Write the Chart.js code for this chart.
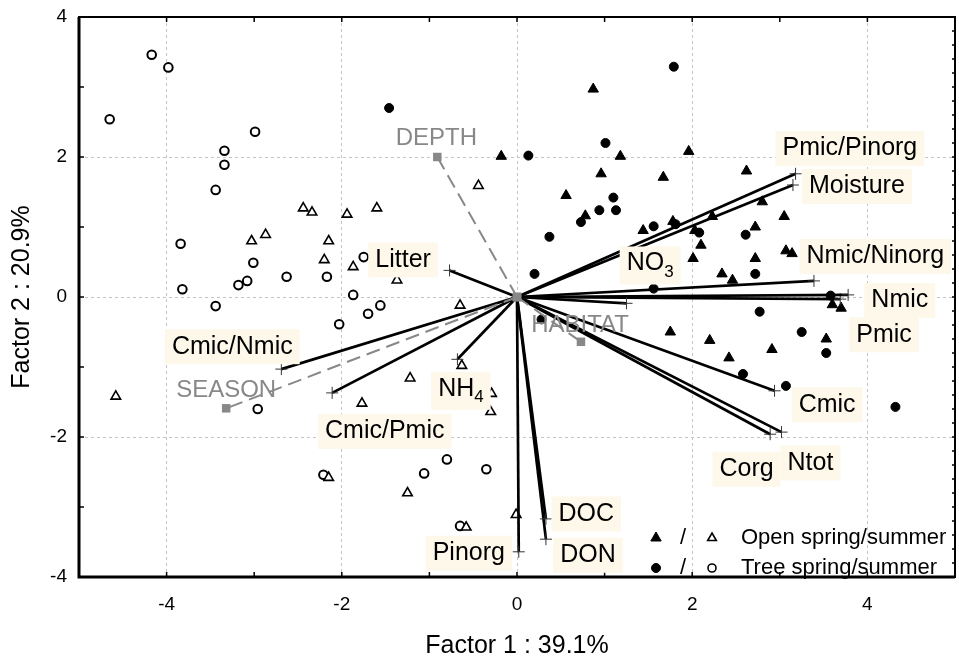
<!DOCTYPE html>
<html>
<head>
<meta charset="utf-8">
<script src="https://cdn.jsdelivr.net/npm/chart.js@4"></script>
<style>
body { margin: 0; background: #fff; }
#wrap { width: 959px; height: 664px; }
</style>
</head>
<body>
<div id="wrap"><canvas id="canvas"></canvas></div>
<script>
// case scores (factor 1, factor 2)
var openSpring = [[-0.18, 2.01], [0.87, 2.97], [1.18, 2.01], [0.96, 1.76], [0.56, 1.45], [0.78, 1.16],
  [1.96, 2.08], [1.67, 1.71], [2.62, 1.80], [2.80, 1.36], [3.05, 1.15], [1.44, 0.95], [1.78, 1.08],
  [2.03, 0.95], [2.23, 1.15], [2.72, 1.00], [2.10, 0.74], [2.01, 0.55], [3.07, 0.66], [3.14, 0.62],
  [2.72, 0.55], [2.34, 0.33], [2.46, 0.24], [3.60, -0.11], [3.70, -0.16], [1.75, -0.50], [2.20, -0.62],
  [3.53, -0.60], [2.91, -0.75], [2.42, -0.87]];
var openSummer = [[-2.44, 1.27], [-2.34, 1.21], [-3.03, 0.80], [-2.87, 0.89], [-0.44, 1.59], [-1.94, 1.18],
  [-1.60, 1.27], [-2.15, 0.80], [-2.20, 0.53], [-1.87, 0.43], [-1.37, 0.24], [-0.65, -0.12], [-0.63, -0.98],
  [-1.22, -1.16], [-1.77, -1.52], [-0.29, -1.38], [-0.30, -1.64], [-2.15, -2.58], [-1.25, -2.80],
  [-0.01, -3.11], [-0.58, -3.29], [-4.58, -1.42]];
var treeSpring = [[-1.46, 2.70], [0.13, 2.02], [1.79, 3.29], [1.01, 2.20], [1.10, 1.42], [0.94, 1.24],
  [1.13, 1.24], [0.73, 1.07], [0.37, 0.86], [0.20, 0.33], [1.56, 1.01], [1.81, 1.04], [2.08, 0.92],
  [2.61, 0.89], [2.72, 0.33], [1.56, 0.12], [3.58, 0.02], [2.77, -0.21], [3.25, -0.50], [3.53, -0.80],
  [2.58, -1.10], [3.07, -1.27], [4.32, -1.57], [0.28, -0.32]];
var treeSummer = [[-4.17, 3.46], [-3.98, 3.28], [-4.65, 2.54], [-2.99, 2.36], [-3.34, 2.09], [-3.34, 1.89],
  [-3.44, 1.53], [-3.84, 0.76], [-3.01, 0.49], [-3.82, 0.11], [-3.18, 0.17], [-3.08, 0.23], [-2.63, 0.29],
  [-2.17, 0.29], [-1.75, 0.57], [-1.87, 0.03], [-3.44, -0.13], [-2.96, -1.60], [-1.70, -0.24],
  [-1.56, -0.12], [-2.03, -0.39], [-2.21, -2.54], [-0.80, -2.32], [-1.06, -2.52], [-0.35, -2.46],
  [-0.65, -3.27]];

// active variables (loadings, scaled)
var varNames = ['Pmic/Pinorg', 'Moisture', 'Nmic/Ninorg', 'NO3', 'Nmic', 'Pmic', 'Cmic', 'Corg', 'Ntot',
  'DOC', 'DON', 'Pinorg', 'NH4', 'Cmic/Pmic', 'Cmic/Nmic', 'Litter'];
var varX = [3.18, 3.15, 3.39, 1.25, 3.78, 3.69, 2.94, 2.89, 3.02, 0.33, 0.33, 0.02, -0.68, -2.11, -2.69, -0.77];
var varY = [1.76, 1.60, 0.23, -0.09, 0.03, -0.03, -1.34, -1.96, -1.93, -3.17, -3.46, -3.64, -0.89, -1.37, -1.03, 0.38];

// supplementary variables
var suppNames = ['DEPTH', 'SEASON', 'HABITAT'];
var suppX = [-0.91, -3.32, 0.73];
var suppY = [2.00, -1.59, -0.64];

var xTicks = [-4, -2, 0, 2, 4];
var yTicks = [-4, -2, 0, 2, 4];

// where the labels sit (chart units)
var varLabelAt = [[3.80, 2.12], [3.88, 1.58], [4.09, 0.58], [1.52, 0.45], [4.37, -0.05], [4.19, -0.54],
  [3.54, -1.54], [2.62, -2.46], [3.35, -2.37], [0.79, -3.10], [0.81, -3.69], [-0.55, -3.66],
  [-0.64, -1.34], [-1.51, -1.92], [-3.25, -0.71], [-1.30, 0.53]];
var suppLabelAt = [[-0.92, 2.27], [-3.32, -1.33], [0.72, -0.40]];
var subscripts = { 'NO3': ['NO', '3'], 'NH4': ['NH', '4'] };

var FONT = 'Arial, "Liberation Sans", sans-serif';

function pts(arr) {
  return arr.map(function (p) { return { x: p[0], y: p[1] }; });
}

var datasets = [];

for (var i = 0; i < varNames.length; i++) {
  datasets.push({
    data: [{ x: 0, y: 0 }, { x: varX[i], y: varY[i] }],
    showLine: true,
    borderColor: '#000',
    borderWidth: 2.7,
    pointStyle: 'cross',
    pointRadius: [0, 6],
    pointBorderColor: '#333',
    pointBorderWidth: 1,
    order: 2
  });
}
for (var j = 0; j < suppNames.length; j++) {
  datasets.push({
    data: [{ x: 0, y: 0 }, { x: suppX[j], y: suppY[j] }],
    showLine: true,
    borderColor: '#888',
    borderWidth: 2,
    borderDash: [14, 7],
    pointStyle: 'rect',
    pointRadius: 6,
    pointBackgroundColor: '#888',
    pointBorderColor: '#888',
    pointBorderWidth: 0,
    order: 1
  });
}
datasets.push({ data: pts(openSpring), pointStyle: 'triangle', pointRadius: 6, backgroundColor: '#000', borderColor: '#000', borderWidth: 1, order: 3 });
datasets.push({ data: pts(treeSpring), pointStyle: 'circle', pointRadius: 4.5, backgroundColor: '#000', borderColor: '#000', borderWidth: 1, order: 3 });
datasets.push({ data: pts(openSummer), pointStyle: 'triangle', pointRadius: 5.5, backgroundColor: '#fff', borderColor: '#000', borderWidth: 1.6, order: 3 });
datasets.push({ data: pts(treeSummer), pointStyle: 'circle', pointRadius: 4.3, backgroundColor: '#fff', borderColor: '#000', borderWidth: 2, order: 3 });

var frame = {
  id: 'frame',
  afterDatasetsDraw: function (chart) {
    var ctx = chart.ctx, a = chart.chartArea;
    var sx = chart.scales.x, sy = chart.scales.y;
    ctx.save();
    ctx.strokeStyle = '#000';
    ctx.lineWidth = 1.5;
    ctx.beginPath();
    for (var v = -5; v <= 5; v++) {
      var px = sx.getPixelForValue(v);
      ctx.moveTo(px, a.bottom); ctx.lineTo(px, a.bottom - 5);
      ctx.moveTo(px, a.top); ctx.lineTo(px, a.top + 5);
    }
    for (var w = -4; w <= 4; w++) {
      var py = sy.getPixelForValue(w);
      ctx.moveTo(a.left, py); ctx.lineTo(a.left + 5, py);
    }
    for (var r = -4; r <= 4; r += 0.2) {
      var pr = sy.getPixelForValue(r);
      ctx.moveTo(a.right, pr); ctx.lineTo(a.right - 3, pr);
    }
    ctx.stroke();
    ctx.lineWidth = 2;
    ctx.strokeRect(a.left, a.top, a.right - a.left, a.bottom - a.top);
    ctx.lineWidth = 3;
    ctx.beginPath();
    ctx.moveTo(a.left, a.top); ctx.lineTo(a.left, a.bottom); ctx.lineTo(a.right, a.bottom);
    ctx.stroke();
    ctx.restore();
  },
  afterDraw: function (chart) {
    var ctx = chart.ctx;
    var sx = chart.scales.x, sy = chart.scales.y;
    ctx.save();
    ctx.textBaseline = 'middle';
    // variable labels on cream boxes
    for (var i = 0; i < varNames.length; i++) {
      var cx = sx.getPixelForValue(varLabelAt[i][0]);
      var cy = sy.getPixelForValue(varLabelAt[i][1]);
      var name = varNames[i];
      var sub = subscripts[name];
      ctx.font = '25px ' + FONT;
      var wMain = ctx.measureText(sub ? sub[0] : name).width;
      var wSub = 0;
      if (sub) { ctx.font = '17px ' + FONT; wSub = ctx.measureText(sub[1]).width; }
      var tw = wMain + wSub;
      var h = sub ? 38 : 35;
      ctx.fillStyle = '#fdf8ea';
      ctx.fillRect(cx - tw / 2 - 7, cy - h / 2, tw + 14, h);
      ctx.fillStyle = '#000';
      ctx.textAlign = 'left';
      ctx.font = '25px ' + FONT;
      ctx.fillText(sub ? sub[0] : name, cx - tw / 2, sub ? cy - 2 : cy);
      if (sub) {
        ctx.font = '17px ' + FONT;
        ctx.fillText(sub[1], cx - tw / 2 + wMain, cy + 7);
      }
    }
    // supplementary labels
    ctx.fillStyle = '#888';
    ctx.textAlign = 'center';
    ctx.font = '24px ' + FONT;
    for (var j = 0; j < suppNames.length; j++) {
      ctx.fillText(suppNames[j], sx.getPixelForValue(suppLabelAt[j][0]), sy.getPixelForValue(suppLabelAt[j][1]));
    }
    // legend
    var drawPoint = Chart.helpers.drawPoint;
    var rows = [
      { y: 538, style: 'triangle', r1: 6, r2: 5, text: 'Open spring/summer' },
      { y: 568, style: 'circle', r1: 4.5, r2: 4, text: 'Tree spring/summer' }
    ];
    rows.forEach(function (row) {
      ctx.fillStyle = '#000'; ctx.strokeStyle = '#000'; ctx.lineWidth = 1;
      drawPoint(ctx, { pointStyle: row.style, radius: row.r1, borderWidth: 1, rotation: 0 }, 656, row.y);
      ctx.fillStyle = '#fff'; ctx.lineWidth = 1.6;
      drawPoint(ctx, { pointStyle: row.style, radius: row.r2, borderWidth: 1.6, rotation: 0 }, 712, row.y);
      ctx.fillStyle = '#000';
      ctx.font = '22px ' + FONT;
      ctx.textAlign = 'center';
      ctx.fillText('/', 683, row.y);
      ctx.textAlign = 'left';
      ctx.fillText(row.text, 741, row.y);
    });
    ctx.restore();
  }
};

function gridColor(c) {
  return c.tick && c.tick.value % 2 === 0 ? '#c4c4c4' : 'rgba(0,0,0,0)';
}

var chart = new Chart(document.getElementById('canvas').getContext('2d'), {
  type: 'scatter',
  data: { datasets: datasets },
  options: {
    responsive: true,
    maintainAspectRatio: false,
    animation: false,
    layout: { autoPadding: false, padding: { top: 17, right: 4, left: 0, bottom: 0 } },
    plugins: { legend: { display: false }, tooltip: { enabled: false } },
    scales: {
      x: {
        min: -5, max: 5,
        afterFit: function (s) { s.height = 87; s.paddingLeft = 0; s.paddingRight = 0; },
        grid: { color: gridColor, drawTicks: false, lineWidth: 1 },
        border: { display: false, dash: [3, 3] },
        ticks: {
          stepSize: 1, padding: 16, color: '#000', font: { size: 19, family: FONT },
          maxRotation: 0, autoSkip: false,
          callback: function (v) { return xTicks.indexOf(v) >= 0 ? v : ''; }
        },
        title: { display: true, text: 'Factor 1 : 39.1%', color: '#000', font: { size: 25, family: FONT }, padding: { top: 4, bottom: 3 } }
      },
      y: {
        min: -4, max: 4,
        afterFit: function (s) { s.width = 79; s.paddingTop = 0; s.paddingBottom = 0; },
        grid: { color: gridColor, drawTicks: false, lineWidth: 1 },
        border: { display: false, dash: [3, 3] },
        ticks: {
          stepSize: 1, padding: 12, color: '#000', font: { size: 19, family: FONT }, autoSkip: false,
          callback: function (v) { return yTicks.indexOf(v) >= 0 ? v : ''; }
        },
        title: { display: true, text: 'Factor 2 : 20.9%', color: '#000', font: { size: 25, family: FONT }, padding: { top: 7, bottom: 4 } }
      }
    }
  },
  plugins: [frame]
});
</script>
</body>
</html>
